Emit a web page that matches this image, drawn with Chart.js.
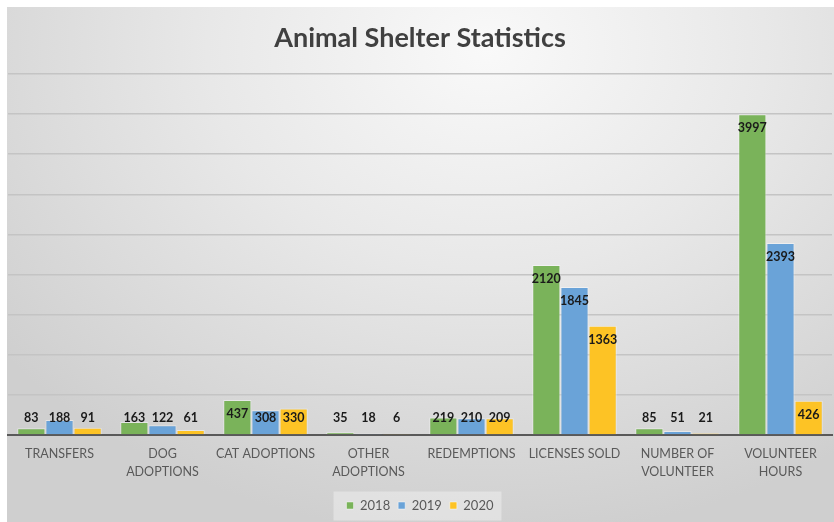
<!DOCTYPE html>
<html>
<head>
<meta charset="utf-8">
<script src="https://cdn.jsdelivr.net/npm/chart.js@4"></script>
<style>
  html, body { margin: 0; padding: 0; background: #ffffff; }
  #wrap {
    position: absolute; left: 7px; top: 7px; width: 827px; height: 515px;
    background: radial-gradient(ellipse 75% 95% at 58% 8%, #f9f9f9 0%, #e8e8e8 45%, #cfcfcf 100%);
  }
  canvas { display: block; }
</style>
</head>
<body>
<div id="wrap"><canvas id="c" width="827" height="515"></canvas></div>
<script>
const categories = [
  'TRANSFERS', ['DOG', 'ADOPTIONS'], 'CAT ADOPTIONS', ['OTHER', 'ADOPTIONS'],
  'REDEMPTIONS', 'LICENSES SOLD', ['NUMBER OF', 'VOLUNTEER'], ['VOLUNTEER', 'HOURS']
];
const seriesNames = ['2018', '2019', '2020'];
const values2018 = [83, 163, 437, 35, 219, 2120, 85, 3997];
const values2019 = [188, 122, 308, 18, 210, 1845, 51, 2393];
const values2020 = [91, 61, 330, 6, 209, 1363, 21, 426];
const colors = ['#7AB35A', '#6AA3D8', '#FDC325'];
const yMax = 4500;
const yStep = 500;

const FONT = 'Lato, "Open Sans", sans-serif';

const labelPlugin = {
  id: 'barLabels',
  afterDatasetsDraw(chart) {
    const ctx = chart.ctx;
    ctx.save();
    ctx.font = 'bold 12.5px ' + FONT;
    ctx.fillStyle = '#1a1a1a';
    ctx.textAlign = 'center';
    ctx.textBaseline = 'middle';
    chart.data.datasets.forEach((ds, di) => {
      const meta = chart.getDatasetMeta(di);
      meta.data.forEach((el, i) => {
        const y = Math.min(el.y + 14, el.base - 16);
        ctx.fillText(String(ds.data[i]), el.x, y);
      });
    });
    ctx.restore();
  }
};

const legendBgPlugin = {
  id: 'legendBg',
  beforeDraw(chart) {
    const lg = chart.legend;
    if (!lg || !lg.legendHitBoxes || !lg.legendHitBoxes.length) return;
    const boxes = lg.legendHitBoxes;
    const x0 = boxes[0].left - 13;
    const last = boxes[boxes.length - 1];
    const x1 = last.left + last.width + 8;
    const cy = boxes[0].top + boxes[0].height / 2;
    const ctx = chart.ctx;
    ctx.save();
    ctx.fillStyle = 'rgba(255,255,255,0.35)';
    ctx.fillRect(x0, cy - 14, x1 - x0, 29);
    ctx.restore();
  }
};

new Chart(document.getElementById('c'), {
  type: 'bar',
  data: {
    labels: categories,
    datasets: [
      { label: seriesNames[0], data: values2018, backgroundColor: colors[0] },
      { label: seriesNames[1], data: values2019, backgroundColor: colors[1] },
      { label: seriesNames[2], data: values2020, backgroundColor: colors[2] }
    ].map(d => Object.assign(d, {
      borderColor: 'rgba(255,255,255,0.45)', borderWidth: 1,
      categoryPercentage: 0.82, barPercentage: 1.0
    }))
  },
  options: {
    responsive: false,
    animation: false,
    devicePixelRatio: 1,
    layout: { padding: { left: 1, right: 2, top: 0, bottom: 0 } },
    plugins: {
      title: {
        display: true,
        text: 'Animal Shelter Statistics',
        color: '#404040',
        font: { family: FONT, size: 27, weight: 'bold' },
        padding: { top: 15, bottom: 19.6 }
      },
      legend: {
        position: 'bottom',
        labels: {
          boxWidth: 7, boxHeight: 7, color: '#595959',
          font: { family: FONT, size: 13 }, padding: 8
        }
      },
      tooltip: { enabled: false }
    },
    scales: {
      x: {
        grid: { display: false, drawTicks: false },
        border: { display: true, color: '#595959', width: 2 },
        ticks: {
          color: '#595959', font: { family: FONT, size: 12.5, lineHeight: 1.44 },
          padding: 10, maxRotation: 0, autoSkip: false
        }
      },
      y: {
        min: 0, max: yMax,
        grid: { color: '#c4c4c4', lineWidth: 1.5, drawTicks: false },
        border: { display: false },
        ticks: { display: false, stepSize: yStep }
      }
    }
  },
  plugins: [labelPlugin, legendBgPlugin]
});
</script>
</body>
</html>
